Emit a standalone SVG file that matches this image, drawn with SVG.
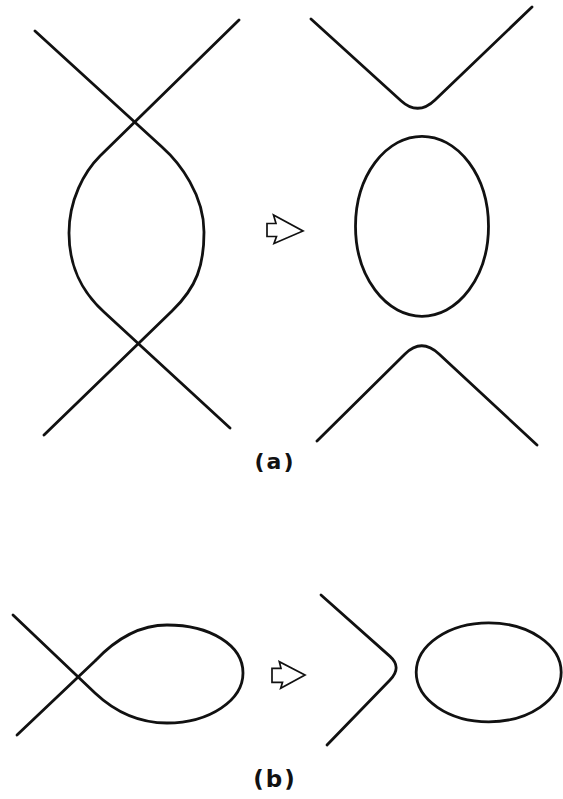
<svg xmlns="http://www.w3.org/2000/svg" width="563" height="799" viewBox="0 0 563 799">
  <style>
    .curve { fill: none; stroke: #111; stroke-width: 2.8; stroke-linecap: round; stroke-linejoin: round; }
    .arrow { fill: #fff; stroke: #111; stroke-width: 1.7; stroke-linejoin: miter; }
    .label { font-family: "DejaVu Sans", "Liberation Sans", sans-serif; font-weight: bold; fill: #111; text-anchor: middle; letter-spacing: 2px; }
  </style>
  <rect width="563" height="799" fill="#fff"/>

  <!-- (a) two strands crossing twice, forming a lens -->
  <g id="a-before">
    <path class="curve" d="M239,20 L100,156 C84,172 69,200 69,233 C69,265 80,290 104,312 L230,428"/>
    <path class="curve" d="M35,31 L162,147 C180,163 204,195 204,232 C204,265 197,287 172,311 L44,435"/>
  </g>

  <!-- (a) result: split into two bends and a closed loop -->
  <g id="a-after">
    <path class="curve" d="M311,19 L401,100.7 Q418,116.3 435,100 L532,7"/>
    <ellipse class="curve" cx="422" cy="226.3" rx="66.5" ry="90"/>
    <path class="curve" d="M317,441 L405,354 Q421.5,337.5 439,354 L537,445"/>
  </g>

  <g id="a-arrow">
    <polygon class="arrow" points="267,223.5 276,223.5 273.5,215 303,231 274,243.5 276.5,236.5 267,236.5"/>
  </g>

  <g id="a-label">
    <text class="label" x="275" y="469" font-size="22">(a)</text>
  </g>

  <!-- (b) single strand with a self-crossing loop -->
  <g id="b-before">
    <path class="curve" d="M13,615 L95,693 C112,709 135,723 167,723 C210,723 243,700 243,673 C243,645 210,625 167,625 C135,625 112,643 95,661 L17,735"/>
  </g>

  <!-- (b) result: a bend and a detached loop -->
  <g id="b-after">
    <path class="curve" d="M321,595 L390,656.4 Q402.3,667.4 390,680 L327,745"/>
    <ellipse class="curve" cx="488.7" cy="672.3" rx="72.5" ry="49.5"/>
  </g>

  <g id="b-arrow">
    <polygon class="arrow" points="272,668.3 281,668.3 279.3,661.7 305,675 280.7,688.3 282.5,682.3 272,682.3"/>
  </g>

  <g id="b-label">
    <text class="label" x="275" y="787" font-size="23">(b)</text>
  </g>
</svg>
